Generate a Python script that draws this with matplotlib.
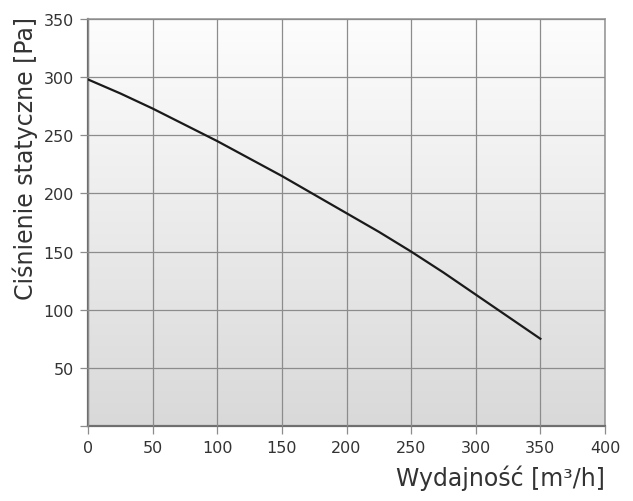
import numpy as np
import matplotlib.pyplot as plt
from matplotlib.colors import LinearSegmentedColormap

# airflow [m3/h] vs static pressure [Pa]
flow = [0, 25, 50, 75, 100, 125, 150, 175, 200, 225, 250, 275, 300, 325, 350]
pressure = [298, 286, 273, 259, 245, 230, 215, 199, 183, 167, 150, 132, 113, 94, 75]

x_ticks = [0, 50, 100, 150, 200, 250, 300, 350, 400]
y_ticks = [0, 50, 100, 150, 200, 250, 300, 350]
y_labels = ['', '50', '100', '150', '200', '250', '300', '350']

plt.rcParams['font.family'] = ['DejaVu Sans']

fig = plt.figure(figsize=(6.33, 5.02), dpi=100)
ax = fig.add_axes([88 / 633, 75 / 502, 517 / 633, 407 / 502])

# vertical gray gradient as background
bg = LinearSegmentedColormap.from_list('bg', ['#fdfdfd', '#d9d9d9'])
grad = np.linspace(0, 1, 256).reshape(-1, 1)
ax.imshow(grad, extent=[0, 400, 0, 350], aspect='auto', cmap=bg,
          origin='upper', zorder=0)

ax.plot(flow, pressure, color='#1a1a1a', lw=1.6, zorder=3)

ax.set_xlim(0, 400)
ax.set_ylim(0, 350)
ax.set_xticks(x_ticks)
ax.set_yticks(y_ticks)
ax.set_yticklabels(y_labels)
ax.grid(True, color='#8c8c8c', lw=0.9, zorder=1)
ax.set_axisbelow(False)

for s in ['left', 'bottom']:
    ax.spines[s].set_color('#6e6e6e')
    ax.spines[s].set_linewidth(1.6)
for s in ['top', 'right']:
    ax.spines[s].set_color('#9a9a9a')
    ax.spines[s].set_linewidth(1.2)

ax.tick_params(axis='both', length=6, width=0.9, color='#8c8c8c',
               labelsize=11.5, labelcolor='#333333', pad=4)

fig.text(25 / 633, 1 - 159 / 502, 'Ciśnienie statyczne [Pa]', rotation=90,
         ha='center', va='center', fontsize=17, color='#333333')
fig.text(605 / 633, 1 - 478 / 502, 'Wydajność [m³/h]', ha='right',
         va='center', fontsize=17, color='#333333')

fig.savefig('out.png', dpi=100)
